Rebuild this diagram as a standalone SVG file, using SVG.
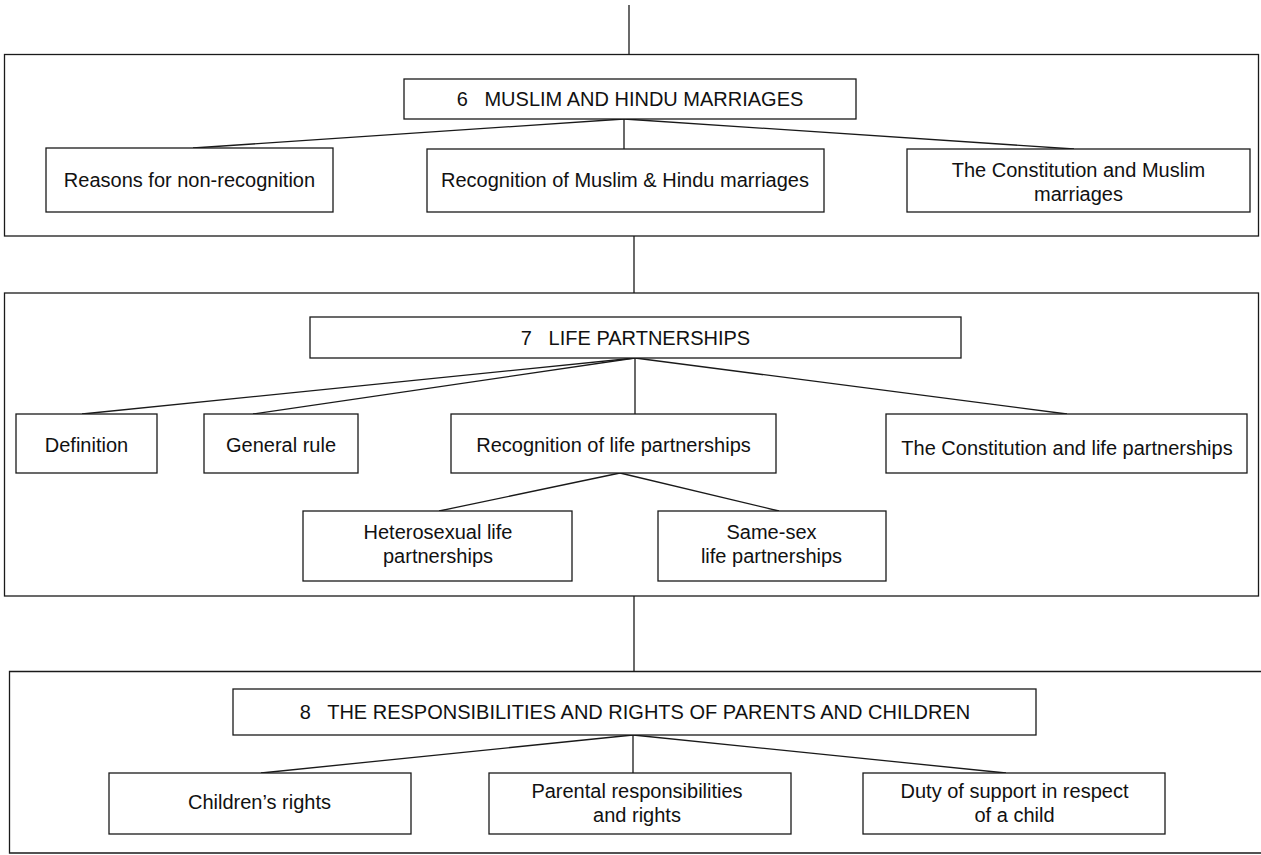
<svg xmlns="http://www.w3.org/2000/svg" width="1261" height="855" viewBox="0 0 1261 855">
<style>
rect{fill:#fff;stroke:#1a1a1a;stroke-width:1.3}
rect.bg{fill:#fff;stroke:none}
.panel{fill:none;stroke:#1a1a1a;stroke-width:1.3}
#connectors line{stroke:#1a1a1a;stroke-width:1.3;fill:none}
text{font-family:"Liberation Sans",Arial,sans-serif;font-size:20px;fill:#111;text-anchor:middle;white-space:pre}
</style>
<rect class="bg" width="1261" height="855"/>
<g id="panels">
<rect class="panel" x="4.5" y="54.5" width="1254" height="181.5"/>
<rect class="panel" x="4.5" y="293" width="1254" height="303"/>
<path class="panel" d="M1262 671.5H9.5V853H1262"/>
</g>
<g id="connectors">
<line x1="629" y1="5" x2="629" y2="54.5"/>
<line x1="624" y1="119" x2="193" y2="148"/>
<line x1="624" y1="119" x2="624" y2="149"/>
<line x1="624" y1="119" x2="1074" y2="149"/>
<line x1="634" y1="236" x2="634" y2="293"/>
<line x1="635" y1="358" x2="82" y2="414"/>
<line x1="635" y1="358" x2="253" y2="414"/>
<line x1="635" y1="358" x2="635" y2="414"/>
<line x1="635" y1="358" x2="1067" y2="414"/>
<line x1="620" y1="473" x2="439" y2="511"/>
<line x1="620" y1="473" x2="779" y2="511"/>
<line x1="634" y1="596" x2="634" y2="671"/>
<line x1="633" y1="735" x2="261" y2="773"/>
<line x1="633" y1="735" x2="633" y2="773"/>
<line x1="633" y1="735" x2="1006" y2="773"/>
</g>
<g id="n6">
<rect x="404" y="79" width="452" height="40"/>
<text x="630" y="106">6   MUSLIM AND HINDU MARRIAGES</text>
</g>
<g id="n6a">
<rect x="46" y="148" width="287" height="64"/>
<text x="189.5" y="187">Reasons for non-recognition</text>
</g>
<g id="n6b">
<rect x="427" y="149" width="397" height="63"/>
<text x="625" y="187">Recognition of Muslim &amp; Hindu marriages</text>
</g>
<g id="n6c">
<rect x="907" y="149" width="343" height="63"/>
<text x="1078.5" y="177">The Constitution and Muslim</text>
<text x="1078.5" y="201">marriages</text>
</g>
<g id="n7">
<rect x="310" y="317" width="651" height="41"/>
<text x="635.5" y="345">7   LIFE PARTNERSHIPS</text>
</g>
<g id="n7a">
<rect x="16" y="414" width="141" height="59"/>
<text x="86.5" y="452">Definition</text>
</g>
<g id="n7b">
<rect x="204" y="414" width="154" height="59"/>
<text x="281" y="452">General rule</text>
</g>
<g id="n7c">
<rect x="451" y="414" width="325" height="59"/>
<text x="613.5" y="452">Recognition of life partnerships</text>
</g>
<g id="n7d">
<rect x="886" y="414" width="361" height="59"/>
<text x="1067" y="455">The Constitution and life partnerships</text>
</g>
<g id="n7e">
<rect x="303" y="511" width="269" height="70"/>
<text x="438" y="539">Heterosexual life</text>
<text x="438" y="563">partnerships</text>
</g>
<g id="n7f">
<rect x="658" y="511" width="228" height="70"/>
<text x="771.5" y="539">Same-sex</text>
<text x="771.5" y="563">life partnerships</text>
</g>
<g id="n8">
<rect x="233" y="689" width="803" height="46"/>
<text x="635" y="719">8   THE RESPONSIBILITIES AND RIGHTS OF PARENTS AND CHILDREN</text>
</g>
<g id="n8a">
<rect x="109" y="773" width="302" height="61"/>
<text x="259.5" y="809">Children’s rights</text>
</g>
<g id="n8b">
<rect x="489" y="773" width="302" height="61"/>
<text x="637" y="798">Parental responsibilities</text>
<text x="637" y="822">and rights</text>
</g>
<g id="n8c">
<rect x="863" y="773" width="302" height="61"/>
<text x="1014.5" y="798">Duty of support in respect</text>
<text x="1014.5" y="822">of a child</text>
</g>
</svg>
